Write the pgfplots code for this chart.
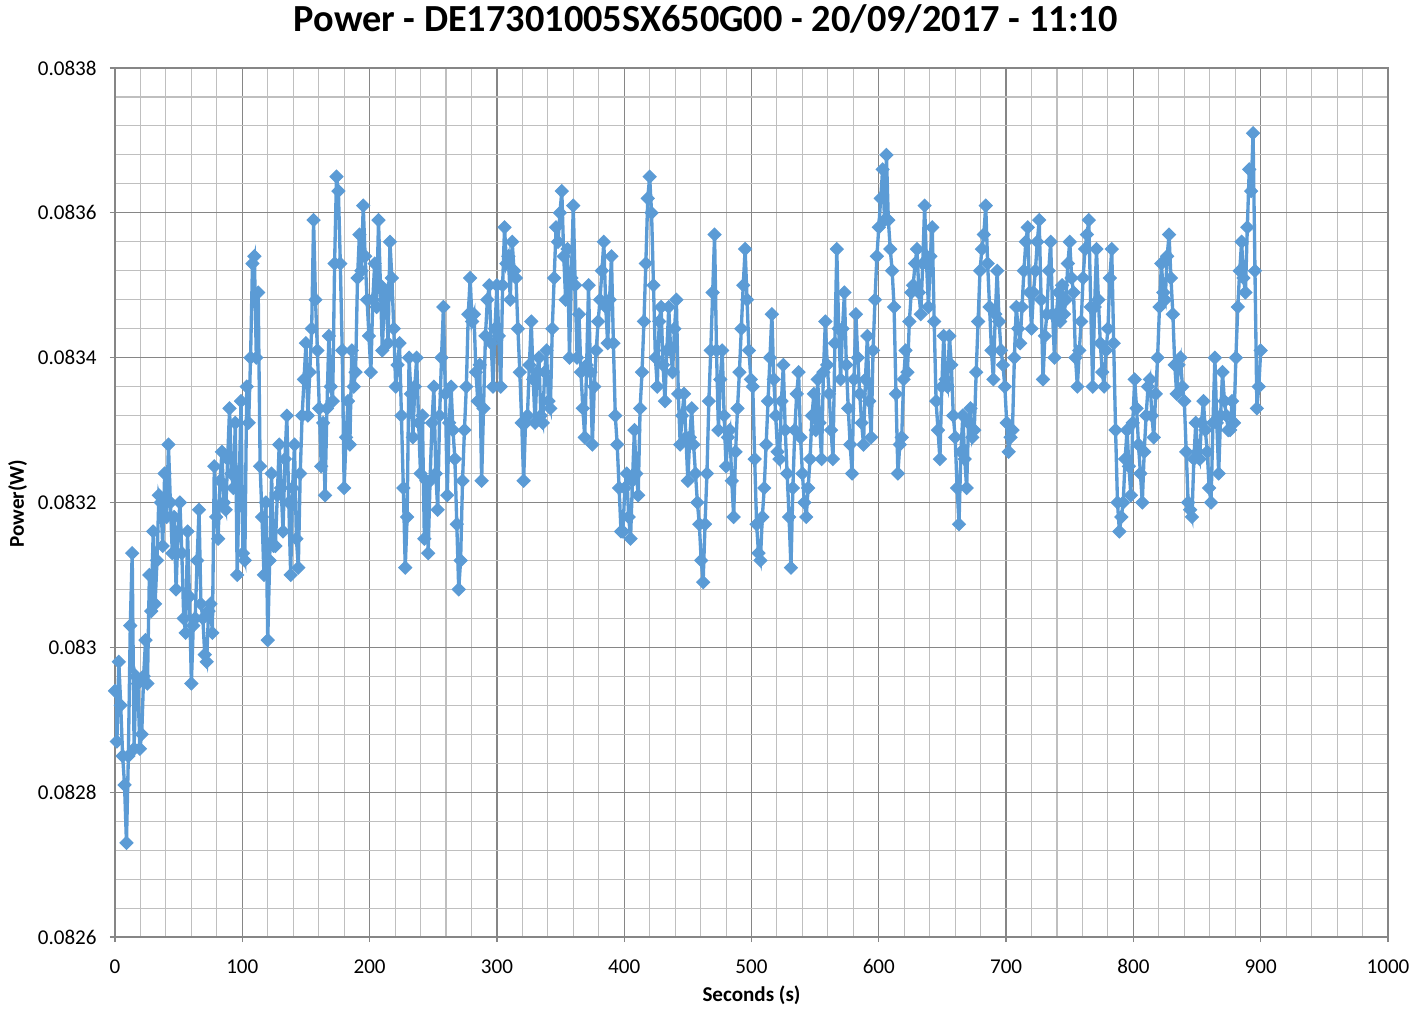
\documentclass[border=0pt]{standalone}
\usepackage{fontspec}
\setmainfont{Carlito}
\usepackage{pgfplots}
\pgfplotsset{compat=1.18}
\definecolor{series}{RGB}{91,155,213}
\definecolor{majgrid}{RGB}{134,134,134}
\definecolor{mingrid}{RGB}{191,191,191}
\begin{document}
\begin{tikzpicture}
\path[use as bounding box] (-1.15,-0.75) rectangle (12.99,9.37);
\begin{axis}[
  at={(0,0)}, anchor=south west, scale only axis,
  width=12.73cm, height=8.69cm,
  xmin=0, xmax=1000, ymin=0.0826, ymax=0.0838,
  xtick={0,100,200,300,400,500,600,700,800,900,1000},
  ytick={0.0826,0.0828,0.0830,0.0832,0.0834,0.0836,0.0838},
  minor x tick num=4, minor y tick num=4,
  grid=both,
  major grid style={draw=majgrid, line width=0.35pt},
  minor grid style={draw=mingrid, line width=0.3pt},
  axis line style={draw=majgrid, line width=0.35pt},
  tick align=outside, tick pos=left,
  major tick length=0.5mm, minor tick length=0pt,
  tick style={draw=majgrid, line width=0.35pt},
  scaled y ticks=false,
  yticklabel style={/pgf/number format/fixed, /pgf/number format/precision=4, xshift=-0.1mm},
  xticklabel style={yshift=-0.5mm},
  /pgf/number format/1000 sep={},
  /pgf/number format/assume math mode=true,
  ticklabel style={font=\fontsize{6}{7}\selectfont, text=black},
]
\addplot[color=series, line width=0.95pt, mark=square*, mark size=1.3pt,
  mark options={rotate=45, fill=series, draw=series, line width=0.3pt}] table {
x y
0 0.08294
1.5 0.08287
3 0.08298
4.5 0.08292
6 0.08285
7.5 0.08281
9 0.08273
10.5 0.08285
12 0.08303
13.5 0.08313
15 0.08286
16.5 0.08296
18 0.08295
19.5 0.08286
21 0.08288
22.5 0.08296
24 0.08301
25.5 0.08295
27 0.08310
28.5 0.08305
30 0.08316
31.5 0.08306
33 0.08312
34.5 0.08321
36 0.08320
37.5 0.08314
39 0.08324
40.5 0.08318
42 0.08328
43.5 0.08320
45 0.08313
46.5 0.08318
48 0.08308
49.5 0.08316
51 0.08320
52.5 0.08313
54 0.08304
55.5 0.08302
57 0.08316
58.5 0.08307
60 0.08295
61.5 0.08303
63 0.08304
64.5 0.08312
66 0.08319
67.5 0.08306
69 0.08304
70.5 0.08299
72 0.08298
73.5 0.08305
75 0.08306
76.5 0.08302
78 0.08325
79.5 0.08318
81 0.08315
82.5 0.08323
84 0.08327
85.5 0.08320
87 0.08319
88.5 0.08326
90 0.08333
91.5 0.08324
93 0.08322
94.5 0.08331
96 0.08310
97.5 0.08322
99 0.08334
100.5 0.08313
102 0.08312
103.5 0.08336
105 0.08331
106.5 0.08340
108 0.08353
109.5 0.08354
111 0.08340
112.5 0.08349
114 0.08325
115.5 0.08318
117 0.08310
118.5 0.08320
120 0.08301
121.5 0.08312
123 0.08324
124.5 0.08314
126 0.08314
127.5 0.08321
129 0.08328
130.5 0.08322
132 0.08316
133.5 0.08326
135 0.08332
136.5 0.08320
138 0.08310
139.5 0.08322
141 0.08328
142.5 0.08315
144 0.08311
145.5 0.08324
147 0.08332
148.5 0.08337
150 0.08342
151.5 0.08332
153 0.08338
154.5 0.08344
156 0.08359
157.5 0.08348
159 0.08341
160.5 0.08333
162 0.08325
163.5 0.08331
165 0.08321
166.5 0.08333
168 0.08343
169.5 0.08336
171 0.08334
172.5 0.08353
174 0.08365
175.5 0.08363
177 0.08353
178.5 0.08341
180 0.08322
181.5 0.08329
183 0.08334
184.5 0.08328
186 0.08341
187.5 0.08336
189 0.08338
190.5 0.08351
192 0.08357
193.5 0.08352
195 0.08361
196.5 0.08354
198 0.08348
199.5 0.08343
201 0.08338
202.5 0.08348
204 0.08353
205.5 0.08347
207 0.08359
208.5 0.08350
210 0.08341
211.5 0.08348
213 0.08349
214.5 0.08342
216 0.08356
217.5 0.08351
219 0.08344
220.5 0.08336
222 0.08339
223.5 0.08342
225 0.08332
226.5 0.08322
228 0.08311
229.5 0.08318
231 0.08340
232.5 0.08335
234 0.08329
235.5 0.08336
237 0.08340
238.5 0.08331
240 0.08324
241.5 0.08332
243 0.08315
244.5 0.08323
246 0.08313
247.5 0.08323
249 0.08331
250.5 0.08336
252 0.08324
253.5 0.08319
255 0.08332
256.5 0.08340
258 0.08347
259.5 0.08335
261 0.08321
262.5 0.08331
264 0.08336
265.5 0.08330
267 0.08326
268.5 0.08317
270 0.08308
271.5 0.08312
273 0.08323
274.5 0.08330
276 0.08336
277.5 0.08346
279 0.08351
280.5 0.08345
282 0.08346
283.5 0.08338
285 0.08334
286.5 0.08339
288 0.08323
289.5 0.08333
291 0.08343
292.5 0.08348
294 0.08350
295.5 0.08342
297 0.08336
298.5 0.08344
300 0.08350
301.5 0.08343
303 0.08336
304.5 0.08350
306 0.08358
307.5 0.08353
309 0.08354
310.5 0.08348
312 0.08356
313.5 0.08352
315 0.08351
316.5 0.08344
318 0.08338
319.5 0.08331
321 0.08323
322.5 0.08331
324 0.08332
325.5 0.08339
327 0.08345
328.5 0.08337
330 0.08331
331.5 0.08338
333 0.08340
334.5 0.08332
336 0.08331
337.5 0.08338
339 0.08341
340.5 0.08334
342 0.08333
343.5 0.08344
345 0.08351
346.5 0.08358
348 0.08356
349.5 0.08360
351 0.08363
352.5 0.08354
354 0.08348
355.5 0.08355
357 0.08340
358.5 0.08351
360 0.08361
361.5 0.08350
363 0.08340
364.5 0.08346
366 0.08338
367.5 0.08333
369 0.08329
370.5 0.08339
372 0.08350
373.5 0.08338
375 0.08328
376.5 0.08336
378 0.08341
379.5 0.08345
381 0.08348
382.5 0.08352
384 0.08356
385.5 0.08347
387 0.08342
388.5 0.08348
390 0.08354
391.5 0.08342
393 0.08332
394.5 0.08328
396 0.08322
397.5 0.08316
399 0.08316
400.5 0.08322
402 0.08324
403.5 0.08318
405 0.08315
406.5 0.08323
408 0.08330
409.5 0.08324
411 0.08321
412.5 0.08333
414 0.08338
415.5 0.08345
417 0.08353
418.5 0.08362
420 0.08365
421.5 0.08360
423 0.08350
424.5 0.08340
426 0.08336
427.5 0.08345
429 0.08347
430.5 0.08339
432 0.08334
433.5 0.08341
435 0.08347
436.5 0.08341
438 0.08338
439.5 0.08344
441 0.08348
442.5 0.08335
444 0.08328
445.5 0.08332
447 0.08335
448.5 0.08329
450 0.08323
451.5 0.08329
453 0.08333
454.5 0.08328
456 0.08324
457.5 0.08320
459 0.08317
460.5 0.08312
462 0.08309
463.5 0.08317
465 0.08324
466.5 0.08334
468 0.08341
469.5 0.08349
471 0.08357
472.5 0.08341
474 0.08330
475.5 0.08337
477 0.08341
478.5 0.08332
480 0.08325
481.5 0.08329
483 0.08330
484.5 0.08323
486 0.08318
487.5 0.08327
489 0.08333
490.5 0.08338
492 0.08344
493.5 0.08350
495 0.08355
496.5 0.08348
498 0.08341
499.5 0.08337
501 0.08336
502.5 0.08326
504 0.08317
505.5 0.08313
507 0.08312
508.5 0.08318
510 0.08322
511.5 0.08328
513 0.08334
514.5 0.08340
516 0.08346
517.5 0.08337
519 0.08332
520.5 0.08327
522 0.08326
523.5 0.08334
525 0.08339
526.5 0.08330
528 0.08324
529.5 0.08318
531 0.08311
532.5 0.08322
534 0.08330
535.5 0.08335
537 0.08338
538.5 0.08329
540 0.08324
541.5 0.08320
543 0.08318
544.5 0.08322
546 0.08326
547.5 0.08332
549 0.08335
550.5 0.08330
552 0.08337
553.5 0.08331
555 0.08326
556.5 0.08338
558 0.08345
559.5 0.08339
561 0.08335
562.5 0.08330
564 0.08326
565.5 0.08342
567 0.08355
568.5 0.08344
570 0.08337
571.5 0.08344
573 0.08349
574.5 0.08339
576 0.08333
577.5 0.08328
579 0.08324
580.5 0.08337
582 0.08346
583.5 0.08340
585 0.08335
586.5 0.08331
588 0.08328
589.5 0.08337
591 0.08343
592.5 0.08334
594 0.08329
595.5 0.08341
597 0.08348
598.5 0.08354
600 0.08358
601.5 0.08362
603 0.08366
604.5 0.08359
606 0.08368
607.5 0.08359
609 0.08355
610.5 0.08352
612 0.08347
613.5 0.08335
615 0.08324
616.5 0.08328
618 0.08329
619.5 0.08337
621 0.08341
622.5 0.08338
624 0.08345
625.5 0.08349
627 0.08350
628.5 0.08353
630 0.08355
631.5 0.08349
633 0.08346
634.5 0.08353
636 0.08361
637.5 0.08353
639 0.08347
640.5 0.08354
642 0.08358
643.5 0.08345
645 0.08334
646.5 0.08330
648 0.08326
649.5 0.08336
651 0.08343
652.5 0.08337
654 0.08336
655.5 0.08343
657 0.08339
658.5 0.08332
660 0.08329
661.5 0.08322
663 0.08317
664.5 0.08327
666 0.08332
667.5 0.08326
669 0.08322
670.5 0.08331
672 0.08333
673.5 0.08329
675 0.08330
676.5 0.08338
678 0.08345
679.5 0.08352
681 0.08355
682.5 0.08357
684 0.08361
685.5 0.08353
687 0.08347
688.5 0.08341
690 0.08337
691.5 0.08346
693 0.08352
694.5 0.08345
696 0.08341
697.5 0.08339
699 0.08336
700.5 0.08331
702 0.08327
703.5 0.08329
705 0.08330
706.5 0.08340
708 0.08347
709.5 0.08344
711 0.08342
712.5 0.08347
714 0.08352
715.5 0.08356
717 0.08358
718.5 0.08349
720 0.08344
721.5 0.08349
723 0.08352
724.5 0.08356
726 0.08359
727.5 0.08348
729 0.08337
730.5 0.08343
732 0.08346
733.5 0.08352
735 0.08356
736.5 0.08346
738 0.08340
739.5 0.08346
741 0.08349
742.5 0.08345
744 0.08350
745.5 0.08346
747 0.08348
748.5 0.08353
750 0.08356
751.5 0.08351
753 0.08349
754.5 0.08340
756 0.08336
757.5 0.08341
759 0.08345
760.5 0.08351
762 0.08355
763.5 0.08357
765 0.08359
766.5 0.08347
768 0.08336
769.5 0.08347
771 0.08355
772.5 0.08348
774 0.08342
775.5 0.08338
777 0.08336
778.5 0.08341
780 0.08344
781.5 0.08351
783 0.08355
784.5 0.08342
786 0.08330
787.5 0.08320
789 0.08316
790.5 0.08318
792 0.08320
793.5 0.08326
795 0.08330
796.5 0.08325
798 0.08321
799.5 0.08331
801 0.08337
802.5 0.08333
804 0.08328
805.5 0.08324
807 0.08320
808.5 0.08327
810 0.08332
811.5 0.08336
813 0.08337
814.5 0.08332
816 0.08329
817.5 0.08335
819 0.08340
820.5 0.08347
822 0.08353
823.5 0.08349
825 0.08348
826.5 0.08354
828 0.08357
829.5 0.08351
831 0.08346
832.5 0.08339
834 0.08335
835.5 0.08339
837 0.08340
838.5 0.08336
840 0.08334
841.5 0.08327
843 0.08320
844.5 0.08319
846 0.08318
847.5 0.08326
849 0.08331
850.5 0.08327
852 0.08326
853.5 0.08331
855 0.08334
856.5 0.08330
858 0.08327
859.5 0.08322
861 0.08320
862.5 0.08331
864 0.08340
865.5 0.08331
867 0.08324
868.5 0.08332
870 0.08338
871.5 0.08334
873 0.08332
874.5 0.08330
876 0.08330
877.5 0.08334
879 0.08331
880.5 0.08340
882 0.08347
883.5 0.08352
885 0.08356
886.5 0.08351
888 0.08349
889.5 0.08358
891 0.08366
892.5 0.08363
894 0.08371
895.5 0.08352
897 0.08333
898.5 0.08336
900 0.08341
};
\end{axis}
\node[anchor=base, font=\fontsize{10.9}{12}\bfseries\selectfont] at (5.905,9.06) {Power - DE17301005SX650G00 - 20/09/2017 - 11:10};
\node[anchor=base, font=\fontsize{6}{7}\bfseries\selectfont] at (6.365,-0.64) {Seconds (s)};
\node[anchor=base, rotate=90, font=\fontsize{6}{7}\bfseries\selectfont] at (-0.91,4.335) {Power(W)};
\end{tikzpicture}
\end{document}
